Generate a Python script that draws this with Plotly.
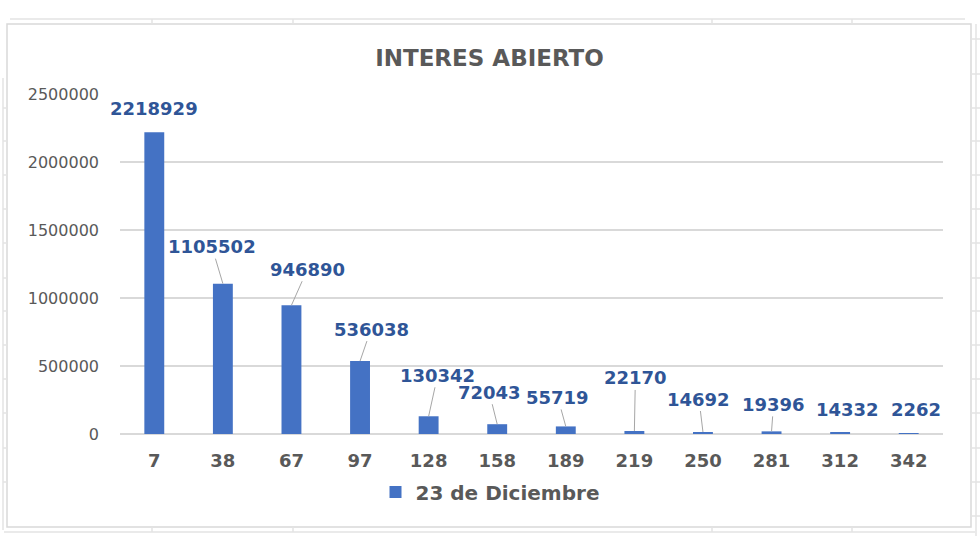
import plotly.graph_objects as go

categories = ["7", "38", "67", "97", "128", "158", "189", "219", "250", "281", "312", "342"]
values = [2218929, 1105502, 946890, 536038, 130342, 72043, 55719, 22170, 14692, 19396, 14332, 2262]
series_name = "23 de Diciembre"
title_text = "INTERES ABIERTO"

# label offsets (pixels, relative to the bar top) and whether a leader line is drawn
label_dx = [0, -11, 16, 11, 9, -8, -8, 1, -4, 2, 7, 7]
label_dy = [-24, -37, -36, -32, -41, -32, -29, -53, -33, -27, -23, -24]
leader = [False, True, True, True, True, True, True, True, True, True, False, False]

W, H = 980, 536
L, R, T, B = 120, 943, 94, 434

BAR = "#4472C4"
LBL = "#2F5597"
GREY = "#595959"
GRID = "#d9d9d9"

fig = go.Figure()
fig.add_trace(go.Bar(
    x=categories, y=values, name=series_name,
    marker=dict(color=BAR, line=dict(width=0)),
    showlegend=True,
))

annotations = []
for i, (v, dx, dy, ld) in enumerate(zip(values, label_dx, label_dy, leader)):
    txt = str(v)
    if ld:
        annotations.append(dict(
            x=i, y=v, xref="x", yref="y", text=txt, showarrow=True,
            ax=dx, ay=dy, arrowhead=0, arrowwidth=1, arrowcolor="#a6a6a6",
            standoff=0, startstandoff=0,
            font=dict(family="DejaVu Sans", size=18, color=LBL, weight="bold"),
        ))
    else:
        annotations.append(dict(
            x=i, y=v, xref="x", yref="y", text=txt, showarrow=False,
            xshift=dx, yshift=-dy, yanchor="middle",
            font=dict(family="DejaVu Sans", size=18, color=LBL, weight="bold"),
        ))


def px_x(p):
    return (p - L) / (R - L)


def px_y(p):
    return (B - p) / (B - T)


shapes = []
# chart area border
shapes.append(dict(type="rect", xref="paper", yref="paper",
                   x0=px_x(7), x1=px_x(971), y0=px_y(527), y1=px_y(24),
                   line=dict(color=GRID, width=1.5), layer="below"))
# spreadsheet background lines
sheet = "#e3e3e3"
shapes.append(dict(type="line", xref="paper", yref="paper",
                   x0=px_x(10), x1=px_x(965), y0=px_y(19), y1=px_y(19),
                   line=dict(color=sheet, width=1.5)))
shapes.append(dict(type="line", xref="paper", yref="paper",
                   x0=px_x(4), x1=px_x(975), y0=px_y(532), y1=px_y(532),
                   line=dict(color=sheet, width=1.5)))
shapes.append(dict(type="line", xref="paper", yref="paper",
                   x0=px_x(3), x1=px_x(3), y0=px_y(530), y1=px_y(78),
                   line=dict(color=sheet, width=1.5)))
shapes.append(dict(type="line", xref="paper", yref="paper",
                   x0=px_x(976), x1=px_x(976), y0=px_y(536), y1=px_y(24),
                   line=dict(color=sheet, width=1.5)))
for xx in [152, 293, 712, 852]:
    shapes.append(dict(type="line", xref="paper", yref="paper",
                       x0=px_x(xx), x1=px_x(xx), y0=px_y(19), y1=px_y(24),
                       line=dict(color=sheet, width=1.5)))
    shapes.append(dict(type="line", xref="paper", yref="paper",
                       x0=px_x(xx), x1=px_x(xx), y0=px_y(527), y1=px_y(532),
                       line=dict(color=sheet, width=1.5)))
for yy in [39, 74, 108, 141, 175, 209, 243, 278, 311, 345, 379, 413, 448, 482, 516]:
    shapes.append(dict(type="line", xref="paper", yref="paper",
                       x0=px_x(971), x1=px_x(980), y0=px_y(yy), y1=px_y(yy),
                       line=dict(color=sheet, width=1.5)))
for yy in [108, 141, 175, 209, 243, 278, 311, 345, 379, 413, 448, 482]:
    shapes.append(dict(type="line", xref="paper", yref="paper",
                       x0=px_x(3), x1=px_x(7), y0=px_y(yy), y1=px_y(yy),
                       line=dict(color=sheet, width=1.5)))

fig.update_layout(
    width=W, height=H,
    margin=dict(l=L, r=W - R, t=T, b=H - B),
    paper_bgcolor="white", plot_bgcolor="white",
    bargap=0.71,
    title=dict(text=title_text, x=0.4995, xanchor="center", y=1 - 58 / H, yanchor="middle",
               font=dict(family="DejaVu Sans", size=23, color=GREY, weight="bold")),
    xaxis=dict(type="category", categoryorder="array", categoryarray=categories,
               range=[-0.5, len(categories) - 0.5], autorange=False,
               showgrid=False, showline=False, zeroline=False,
               ticks="", ticklabelstandoff=14, tickangle=0,
               tickfont=dict(family="DejaVu Sans", size=18, color=GREY, weight="bold")),
    yaxis=dict(range=[0, 2500000], autorange=False,
               tickvals=[0, 500000, 1000000, 1500000, 2000000, 2500000],
               ticktext=["0", "500000", "1000000", "1500000", "2000000", "2500000"],
               showgrid=True, gridcolor=GRID, gridwidth=1.5, zeroline=True,
               zerolinecolor=GRID, zerolinewidth=1.5, showline=False, ticks="",
               ticklabelstandoff=20,
               tickfont=dict(family="DejaVu Sans", size=16, color=GREY)),
    legend=dict(orientation="h", x=px_x(490), xanchor="center", y=px_y(492), yanchor="middle",
                font=dict(family="DejaVu Sans", size=20, color=GREY, weight="bold"),
                itemsizing="constant", bgcolor="rgba(0,0,0,0)"),
    annotations=annotations,
    shapes=shapes,
)

fig.write_html("out.html")
